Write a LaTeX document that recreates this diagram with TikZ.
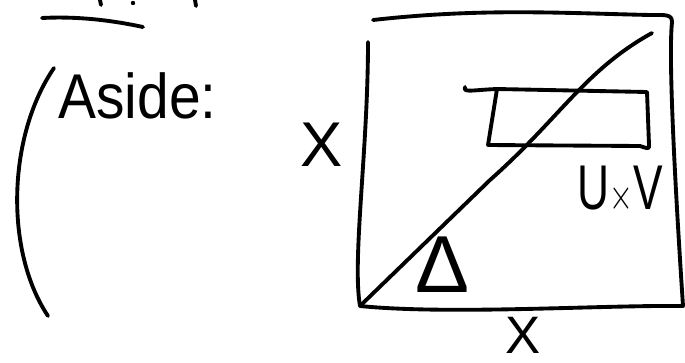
\documentclass[tikz,border=0pt]{standalone}
\usepackage{fontspec}
\setmainfont{Liberation Sans}
\usetikzlibrary{positioning}

\begin{document}
\begin{tikzpicture}[x=0.02cm,y=-0.02cm,
  pen/.style={line width=2.2pt,line cap=round,line join=round},
  hand/.style={inner sep=0pt,font=\fontsize{36}{42}\selectfont}]
\useasboundingbox (0,0) rectangle (685,362);
% heading, cut off at the top of the page
\draw[pen] (42,18) .. controls (80,16) and (115,21) .. (143,27);
\draw[pen] (100,0) -- (101,5);
\fill (133,3) circle (2.2);
\draw[pen] (195,0) -- (196,6);
% aside
\draw[pen] (54,68) .. controls (8,135) and (4,250) .. (48,316);
\node[hand,anchor=base west] (aside) at (58,118) {\scalebox{0.9}[1]{Aside:}};
% square X times X
\coordinate (tl) at (368,42);
\coordinate (bl) at (360,306);
\coordinate (br) at (683,306);
\coordinate (tr) at (672,22);
\coordinate (diagend) at (652,33);
\draw[pen] (tl) .. controls (368,150) and (352,260) .. (bl)
  .. controls (450,315) and (600,305) .. (br)
  .. controls (676,200) and (668,60) .. (tr)
  .. controls (672,14) and (665,15) .. (650,15)
  .. controls (560,13) and (480,8) .. (373,20);
\draw[pen] (bl) -- (490,180) .. controls (560,118) and (585,70) .. (diagend);
% box U x V
\coordinate (uvtl) at (497,89);
\coordinate (uvtr) at (647,92);
\coordinate (uvbr) at (650,150);
\coordinate (uvbl) at (488,145);
\draw[pen] (465,87) .. controls (463,93) and (472,90) .. (uvtl) -- (uvtr)
  -- (649,145) .. controls (650,150) and (646,148) .. (640,146) -- (uvbl) -- (uvtl);
\node[hand] (uv) at (620,190) {\scalebox{0.7}[1]{U$\times$V}};
% labels
\node[hand,font=\fontsize{46}{50}\selectfont] (delta) at (442,265) {Δ};
\node[hand] (xleft) at (322,145) {X};
\node[hand,font=\fontsize{30}{34}\selectfont] (xbottom) at (523,335) {X};
\end{tikzpicture}
\end{document}
